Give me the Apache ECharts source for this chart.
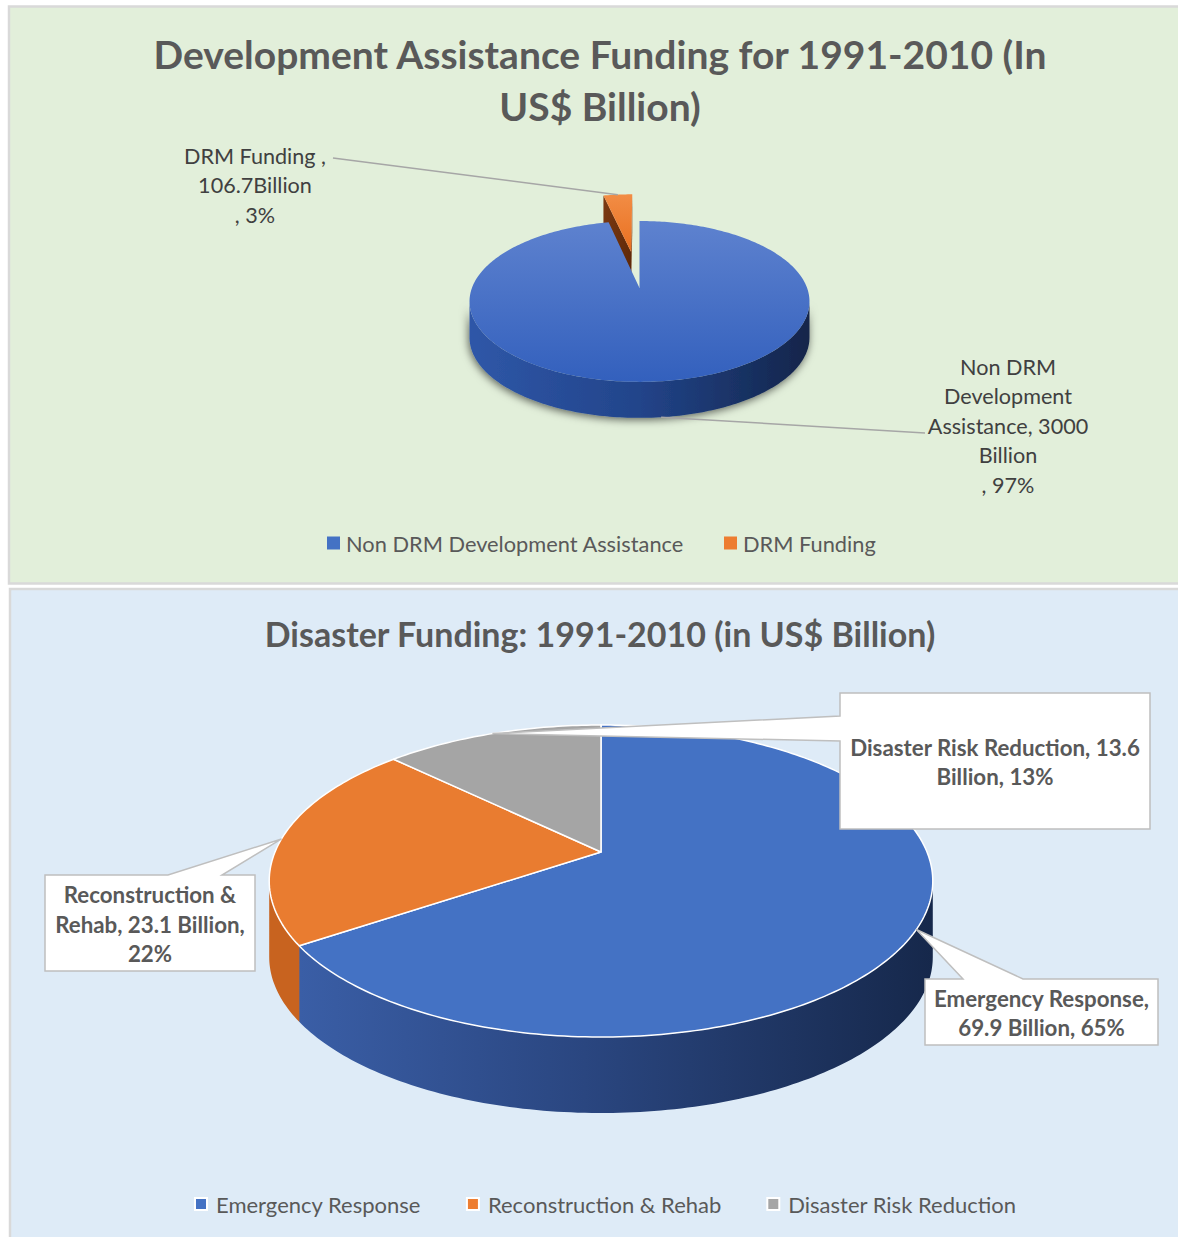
<!DOCTYPE html>
<html>
<head>
<meta charset="utf-8">
<script src="https://cdn.jsdelivr.net/npm/echarts@6/dist/echarts.min.js"></script>
<style>
html,body{margin:0;padding:0;background:#ffffff;}
#c{width:1178px;height:1237px;}
</style>
</head>
<body>
<div id="c"></div>
<script>
// ---------------- DATA ----------------
const devTitle = 'Development Assistance Funding for 1991-2010 (In\nUS$ Billion)';
const devCategories = ['Non DRM Development Assistance', 'DRM Funding'];
const devValues = [3000, 106.7];
const devPercents = [97, 3];

const disTitle = 'Disaster Funding: 1991-2010 (in US$ Billion)';
const disCategories = ['Emergency Response', 'Reconstruction & Rehab', 'Disaster Risk Reduction'];
const disValues = [69.9, 23.1, 13.6];
const disPercents = [65, 22, 13];

// label text templates (as printed on the chart)
const devLabelTemplates = ['{name}, {value} Billion , {pct}%', '{name} , {value}Billion , {pct}%'];
const devLabelWrap = [[2, 1, 2, 1, 2], [3, 1, 2]];
const disLabelTemplates = ['{name}, {value} Billion, {pct}%', '{name}, {value} Billion, {pct}%', '{name}, {value} Billion, {pct}%'];
const disLabelWrap = [[2, 3], [2, 3, 1], [4, 2]];

// ---------------- HELPERS ----------------
const FONT = 'Lato, "Open Sans", sans-serif';
const TXT = '#595959';

function fillTemplate(t, name, value, pct) {
  return t.replace('{name}', name).replace('{value}', String(value)).replace('{pct}', String(pct));
}
function wrapWords(text, counts) {
  const words = text.split(' ');
  const lines = []; let k = 0;
  counts.forEach(c => { lines.push(words.slice(k, k + c).join(' ')); k += c; });
  if (k < words.length) lines.push(words.slice(k).join(' '));
  return lines.join('\n');
}
const LG = echarts.graphic.LinearGradient;

// ---------------- CHART CONFIGS (layout/style) ----------------
const devCfg = {
  values: devValues,
  geo: {cx: 639.5, cy: 288, rx: 167.6, ry: 78.2, k: 0.167, depth: 36},
  explode: [0, 0.5],
  anchorOnBase: true,
  topFill: i => i === 0
    ? new LG(0, 0, 0, 1, [{offset: 0, color: '#5E82CF'}, {offset: 1, color: '#3360BD'}])
    : new LG(0, 0, 0, 1, [{offset: 0, color: '#F28D45'}, {offset: 1, color: '#E96F20'}]),
  topStroke: null, topStrokeWidth: 0,
  wallFill: i => i === 0
    ? new LG(0, 0, 1, 0, [{offset: 0, color: '#2F57A8'}, {offset: 0.5, color: '#22448A'}, {offset: 1, color: '#13254A'}])
    : new LG(0, 0, 1, 0, [{offset: 0, color: '#B85A1C'}, {offset: 1, color: '#7A3A10'}]),
  wallExtra: {shadowBlur: 9, shadowColor: 'rgba(0,0,0,0.6)', shadowOffsetY: 2, shadowOffsetX: -1},
  faceFill: i => i === 0 ? '#6E7F8E' : new LG(0, 0, 1, 1, [{offset: 0, color: '#7C3A12'}, {offset: 1, color: '#5A2608'}]),
  labels: [
    {x: 1008, y: 352, leader: [925, 433], lineHeight: 29.5, fontSize: 21.6},
    {x: 255, y: 141, leader: [333, 158], lineHeight: 29.5, fontSize: 21.6}
  ]
};
const disCfg = {
  values: disValues,
  geo: {cx: 601, cy: 852, rx: 326, ry: 150.6, k: 0.186, depth: 76},
  explode: [0, 0, 0],
  anchorOnBase: false,
  topFill: i => ['#4472C4', '#E97C30', '#A5A5A5'][i],
  topStroke: '#FFFFFF', topStrokeWidth: 1.5,
  wallFill: i => i === 0
    ? new LG(0, 0, 1, 0, [{offset: 0, color: '#3A5EA6'}, {offset: 0.45, color: '#2A4680'}, {offset: 1, color: '#16284B'}])
    : (i === 1 ? '#C8631F' : '#7F7F7F'),
  wallExtra: {},
  faceFill: i => ['#2A4680', '#B8581A', '#7F7F7F'][i],
  boxes: [
    {x0: 925, y0: 979, x1: 1158, y1: 1045, side: 'top', b0: 963, b1: 1023},
    {x0: 45, y0: 875, x1: 255, y1: 971, side: 'top', b0: 168, b1: 222},
    {x0: 840, y0: 693, x1: 1150, y1: 829, side: 'left', b0: 716, b1: 741}
  ]
};

// ---------------- RENDER ----------------
function renderSlice(cfg, kind, i, api) {
  const vals = cfg.values;
  const total = vals.reduce((a, b) => a + b, 0);
  let before = 0;
  for (let j = 0; j < i; j++) before += vals[j];
  const v = api.value(0);
  const a0 = before / total * 2 * Math.PI;
  const a1 = (before + v) / total * 2 * Math.PI;
  const mid = (a0 + a1) / 2;
  const e = cfg.explode[i];
  const ou = e * Math.sin(mid), ov = e * Math.cos(mid);
  const G = cfg.geo, D = G.depth;
  const P = (u, w, dy) => { const d = 1 + G.k * w; return [G.cx + G.rx * u / d, G.cy - G.ry * w / d + (dy || 0)]; };
  const arc = (a, dy) => P(ou + Math.sin(a), ov + Math.cos(a), dy);
  const ctr = dy => P(ou, ov, dy);
  const arcPts = (b0, b1, dy) => {
    const n = Math.max(2, Math.ceil((b1 - b0) / (Math.PI / 180)));
    const out = [];
    for (let s = 0; s <= n; s++) out.push(arc(b0 + (b1 - b0) * s / n, dy));
    return out;
  };
  const children = [];
  const c0 = ctr(0);
  // radial cut faces
  [[a0, true], [a1, false]].forEach(([a, isStart]) => {
    const p = arc(a, 0);
    const vis = isStart ? p[0] < c0[0] - 0.5 : p[0] > c0[0] + 0.5;
    if (!vis) return;
    children.push({type: 'polygon', z2: 1, silent: true,
      shape: {points: [c0, p, arc(a, D), ctr(D)]}, style: {fill: cfg.faceFill(i)}});
  });
  // outer wall (front-facing part only)
  const vis0 = Math.acos(-G.k), vis1 = 2 * Math.PI - vis0;
  const w0 = Math.max(a0, vis0), w1 = Math.min(a1, vis1);
  if (w1 > w0) {
    const top = arcPts(w0, w1, 0), bot = arcPts(w0, w1, D).reverse();
    children.push({type: 'polygon', z2: 2, silent: true,
      shape: {points: top.concat(bot)}, style: Object.assign({fill: cfg.wallFill(i)}, cfg.wallExtra)});
  }
  // top face
  children.push({type: 'polygon', z2: 3, silent: true,
    shape: {points: [c0].concat(arcPts(a0, a1, 0))},
    style: {fill: cfg.topFill(i), stroke: cfg.topStroke, lineWidth: cfg.topStrokeWidth, lineJoin: 'round'}});

  // labels
  const onWall = cfg.anchorOnBase && mid > vis0 && mid < vis1;
  const tip = arc(mid, onWall ? D : 0);
  if (kind === 'dev') {
    const L = cfg.labels[i];
    const text = wrapWords(fillTemplate(devLabelTemplates[i], devCategories[i], v, devPercents[i]), devLabelWrap[i]);
    children.push({type: 'polyline', z2: 5, silent: true, shape: {points: [L.leader, tip]},
      style: {stroke: '#A6A6A6', lineWidth: 1.5, fill: null}});
    children.push({type: 'text', z2: 6, silent: true,
      style: {text: text, x: L.x, y: L.y, textAlign: 'center', textVerticalAlign: 'top',
        fill: '#404040', font: L.fontSize + 'px ' + FONT, lineHeight: L.lineHeight}});
  } else {
    const B = cfg.boxes[i];
    let pts;
    if (B.side === 'top') {
      pts = [[B.x0, B.y0], [B.b0, B.y0], tip, [B.b1, B.y0], [B.x1, B.y0], [B.x1, B.y1], [B.x0, B.y1]];
    } else {
      pts = [[B.x0, B.y0], [B.x1, B.y0], [B.x1, B.y1], [B.x0, B.y1], [B.x0, B.b1], tip, [B.x0, B.b0]];
    }
    const text = wrapWords(fillTemplate(disLabelTemplates[i], disCategories[i], v, disPercents[i]), disLabelWrap[i]);
    children.push({type: 'polygon', z2: 5, silent: true, shape: {points: pts},
      style: {fill: '#FFFFFF', stroke: '#BFBFBF', lineWidth: 1.5, lineJoin: 'miter'}});
    children.push({type: 'text', z2: 6, silent: true,
      style: {text: text, x: (B.x0 + B.x1) / 2, y: (B.y0 + B.y1) / 2 + 1, textAlign: 'center', textVerticalAlign: 'middle',
        fill: TXT, font: 'bold 22.3px ' + FONT, lineHeight: 29.5}});
  }
  return {type: 'group', children: children};
}

const devLegendColors = ['#4472C4', '#ED7D31'];
const disLegendColors = ['#4472C4', '#ED7D31', '#A5A5A5'];

const series = [];
devCategories.forEach((name, i) => series.push({
  type: 'custom', name: name, coordinateSystem: 'none', animation: false,
  itemStyle: {color: devLegendColors[i]},
  data: [[devValues[i]]],
  renderItem: (p, api) => renderSlice(devCfg, 'dev', i, api)
}));
disCategories.forEach((name, i) => series.push({
  type: 'custom', name: name, coordinateSystem: 'none', animation: false,
  itemStyle: {color: disLegendColors[i]},
  data: [[disValues[i]]],
  renderItem: (p, api) => renderSlice(disCfg, 'dis', i, api)
}));

const chart = echarts.init(document.getElementById('c'), null, {renderer: 'svg', width: 1178, height: 1237});
chart.setOption({
  animation: false,
  graphic: [
    {type: 'rect', z: -10, silent: true, shape: {x: 9, y: 6.5, width: 1175, height: 577}, style: {fill: '#E2EFDA', stroke: '#D9D9D9', lineWidth: 2.5}},
    {type: 'rect', z: -10, silent: true, shape: {x: 10, y: 589, width: 1175, height: 655}, style: {fill: '#DEEBF7', stroke: '#D9D9D9', lineWidth: 2.5}}
  ],
  title: [
    {text: devTitle, left: 600, top: 28, textAlign: 'center', padding: 0,
      textStyle: {fontFamily: FONT, fontWeight: 'bold', fontSize: 39, color: TXT, lineHeight: 52}},
    {text: disTitle, left: 600, top: 613, textAlign: 'center', padding: 0,
      textStyle: {fontFamily: FONT, fontWeight: 'bold', fontSize: 34, color: TXT, lineHeight: 40}}
  ],
  legend: [
    {data: devCategories, left: 327, top: 532, padding: 0, icon: 'rect', itemWidth: 13, itemHeight: 13, itemGap: 40,
      selectedMode: false, textStyle: {fontFamily: FONT, fontSize: 21.8, color: TXT, padding: [0, 0, 0, 1]}},
    {data: disCategories, left: 194, top: 1193, padding: 0, icon: 'rect', itemWidth: 12, itemHeight: 12, itemGap: 45,
      selectedMode: false, itemStyle: {borderColor: '#FFFFFF', borderWidth: 2},
      textStyle: {fontFamily: FONT, fontSize: 22, color: TXT, padding: [0, 0, 0, 4]}}
  ],
  series: series
});
</script>
</body>
</html>
